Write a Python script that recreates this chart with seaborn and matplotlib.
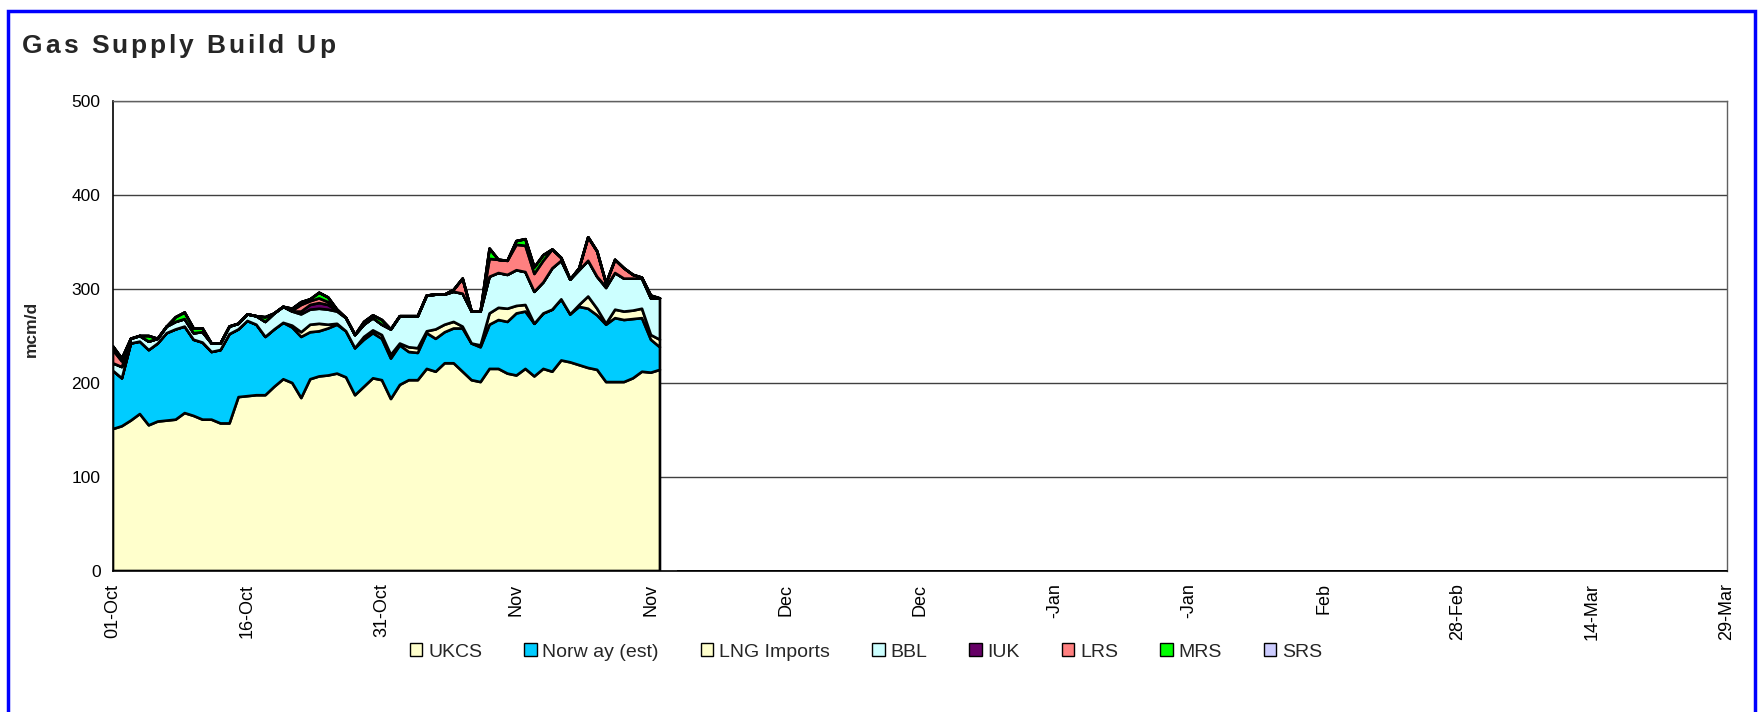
import numpy as np
import pandas as pd
import matplotlib
matplotlib.use("Agg")
import matplotlib.pyplot as plt
from matplotlib.patches import Patch, Rectangle
import seaborn as sns

# ---------------- data (mcm/d, daily from 01-Oct) ----------------
days = list(range(62))
ukcs = [151, 154, 160, 167, 155, 159, 160, 161, 168, 165, 161, 161, 157, 157, 185, 186,
        187, 187, 196, 204, 200, 184, 204, 207, 208, 210, 206, 187, 196, 205, 203, 183,
        198, 203, 203, 215, 212, 221, 221, 212, 203, 201, 215, 215, 210, 208, 215, 207,
        215, 212, 224, 222, 219, 216, 214, 201, 201, 201, 205, 212, 211, 214]
norway = [62, 51, 82, 77, 80, 83, 93, 96, 92, 81, 82, 72, 78, 95, 72, 80,
          75, 62, 61, 60, 59, 65, 50, 48, 50, 52, 49, 50, 50, 48, 44, 43,
          42, 30, 29, 38, 35, 33, 37, 46, 39, 37, 47, 52, 55, 66, 61, 56,
          59, 66, 65, 51, 62, 63, 58, 61, 68, 66, 63, 57, 35, 24]
lng = [0, 0, 0, 0, 0, 0, 0, 0, 0, 0, 0, 0, 0, 0, 0, 0,
       0, 0, 0, 0, 2, 5, 8, 8, 4, 1, 0, 0, 3, 3, 4, 4,
       2, 5, 5, 2, 10, 8, 7, 2, 0, 2, 12, 13, 14, 8, 7, 0,
       0, 0, 0, 0, 2, 13, 7, 1, 9, 9, 9, 10, 5, 8]
bbl = [8, 12, 5, 6, 9, 5, 7, 8, 8, 7, 11, 9, 7, 8, 6, 7,
       9, 16, 17, 17, 15, 19, 16, 16, 16, 13, 14, 14, 13, 13, 11, 27,
       29, 33, 34, 38, 37, 32, 32, 35, 34, 36, 39, 37, 36, 38, 35, 34,
       33, 44, 41, 37, 37, 38, 34, 38, 39, 35, 34, 32, 39, 44]
iuk = [0, 0, 0, 0, 0, 0, 0, 0, 0, 0, 0, 0, 0, 0, 0, 0,
       0, 0, 0, 0, 0, 3, 5, 6, 5, 1, 0, 0, 0, 0, 0, 0,
       0, 0, 0, 0, 0, 0, 0, 0, 0, 0, 0, 0, 0, 0, 0, 0,
       0, 0, 0, 0, 0, 0, 0, 1, 0, 0, 0, 0, 0, 0]
lrs = [14, 6, 0, 0, 0, 0, 0, 0, 0, 0, 0, 0, 0, 0, 0, 0,
       0, 0, 0, 0, 1, 7, 4, 5, 3, 1, 0, 0, 0, 0, 0, 0,
       0, 0, 0, 0, 0, 0, 2, 16, 0, 0, 19, 14, 15, 27, 28, 19,
       23, 20, 3, 0, 2, 25, 27, 4, 14, 11, 4, 1, 0, 0]
mrs = [4, 3, 0, 0, 6, 0, 0, 5, 7, 5, 4, 0, 0, 0, 0, 0,
       0, 5, 0, 0, 2, 3, 2, 6, 5, 0, 0, 0, 3, 3, 5, 0,
       0, 0, 0, 0, 0, 0, 0, 0, 0, 0, 11, 0, 0, 4, 7, 7,
       6, 0, 0, 0, 0, 0, 0, 0, 0, 0, 0, 0, 3, 0]
srs = [0] * 62

series_names = ["UKCS", "Norw ay (est)", "LNG Imports", "BBL", "IUK", "LRS", "MRS", "SRS"]
series_colors = ["#FFFFCC", "#00CCFF", "#FFFFCC", "#CCFFFF", "#660066", "#FF8080", "#00FF00", "#CCCCFF"]

season_days = list(range(181))          # 01-Oct .. 29-Mar
no_report_days = [62]                   # gap after last reported day
tick_days = [0, 15, 30, 45, 60, 75, 90, 105, 120, 135, 150, 165, 180]
tick_labels = ["01-Oct", "16-Oct", "31-Oct", "Nov", "Nov", "Dec", "Dec",
               "-Jan", "-Jan", "Feb", "28-Feb", "14-Mar", "29-Mar"]
y_ticks = [0, 100, 200, 300, 400, 500]

# ---------------- frame ----------------
sns.set_style("white")
plt.rcParams["font.family"] = ["Liberation Sans", "DejaVu Sans"]

W, H = 1762, 712
fig = plt.figure(figsize=(W / 100, H / 100), dpi=100)
fig.patch.set_facecolor("white")

df = pd.DataFrame({n: v for n, v in zip(series_names,
                   [ukcs, norway, lng, bbl, iuk, lrs, mrs, srs])}, index=days)
df = df.reindex(season_days).fillna(0.0)
df.loc[no_report_days, :] = np.nan

ax = fig.add_axes([113 / W, 1 - 571 / H, (1727 - 113) / W, (571 - 101) / H])
ax.set_axisbelow(True)
ax.yaxis.grid(True, color="#404040", lw=1.0)
ax.xaxis.grid(False)

ax.stackplot(df.index.values, [df[n].values for n in series_names],
             colors=series_colors, edgecolor="black", linewidth=1.9)

ax.set_xlim(0, 180)
ax.set_ylim(0, 500)
ax.set_yticks(y_ticks)
ax.set_xticks(tick_days)
ax.set_xticklabels(tick_labels, rotation=90)
ax.tick_params(axis="both", direction="out", length=5, width=1, color="black",
               labelcolor="black")
ax.tick_params(axis="y", pad=4, labelsize=12.5)
ax.tick_params(axis="x", pad=4, labelsize=13)
for s in ["left", "bottom"]:
    ax.spines[s].set_color("black")
    ax.spines[s].set_linewidth(1.2)
for s in ["top", "right"]:
    ax.spines[s].set_color("#606060")
    ax.spines[s].set_linewidth(1.0)
    ax.spines[s].set_visible(True)
ax.set_ylabel("")
ax.set_xlabel("")

fig.text(31 / W, 1 - 329 / H, "mcm/d", rotation=90, ha="center", va="center",
         fontsize=12.5, fontweight="bold")

# title with letter spacing, spread to the reference width
renderer = fig.canvas.get_renderer()
title = "Gas Supply Build Up"
tsize = 19
glyphs = []
for ch in title:
    if ch == " ":
        glyphs.append((ch, None, 0.278 * tsize * 100 / 72))
    else:
        t = fig.text(0, 1 - 53 / H, ch, fontsize=tsize, fontweight="bold",
                     ha="left", va="baseline")
        glyphs.append((ch, t, t.get_window_extent(renderer).width))
natural = sum(g[2] for g in glyphs)
gap = (313 - natural) / (len(glyphs) - 1)
xpix = 22.0
for ch, t, w in glyphs:
    if t is not None:
        t.set_x(xpix / W)
    xpix += w + gap

handles = [Patch(facecolor=c, edgecolor="black", lw=1) for c in series_colors]
fig.legend(handles, series_names, loc="center", bbox_to_anchor=(866 / W, 1 - 652 / H),
           ncol=8, frameon=False, fontsize=14, handlelength=0.65, handleheight=0.65,
           handletextpad=0.3, columnspacing=2.15)

fig.patches.append(Rectangle((8 / W, -0.2), (1755 - 8) / W, 1.2 - 11 / H,
                             transform=fig.transFigure, fill=False,
                             edgecolor="#0000FF", lw=2.5))

fig.savefig("out.png", dpi=100)
